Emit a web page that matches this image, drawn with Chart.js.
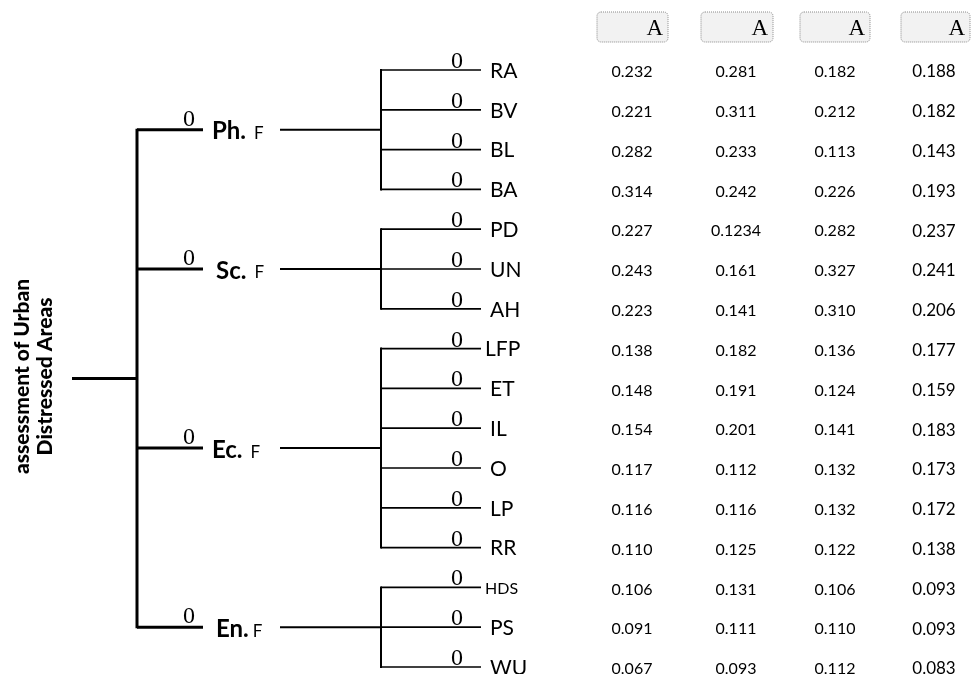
<!DOCTYPE html>
<html>
<head>
<meta charset="utf-8">
<script src="https://cdn.jsdelivr.net/npm/chart.js@4"></script>
<style>
  html, body { margin: 0; padding: 0; background: #fff; }
  #wrap { width: 971px; height: 674px; }
</style>
</head>
<body>
<div id="wrap"><canvas id="tree" width="971" height="674"></canvas></div>
<script>
"use strict";

// Daten
const rootTitle = ["assessment of Urban", "Distressed Areas"];
const groups = ["Ph.", "Sc.", "Ec.", "En."];
const groupSizes = [4, 3, 6, 3];
const groupWeights = [0, 0, 0, 0];
const leaves = ["RA", "BV", "BL", "BA", "PD", "UN", "AH", "LFP", "ET", "IL", "O", "LP", "RR", "HDS", "PS", "WU"];
const leafWeights = [0, 0, 0, 0, 0, 0, 0, 0, 0, 0, 0, 0, 0, 0, 0, 0];
const headers = ["A", "A", "A", "A"];
const col1 = [0.232, 0.221, 0.282, 0.314, 0.227, 0.243, 0.223, 0.138, 0.148, 0.154, 0.117, 0.116, 0.110, 0.106, 0.091, 0.067];
const col2 = [0.281, 0.311, 0.233, 0.242, 0.1234, 0.161, 0.141, 0.182, 0.191, 0.201, 0.112, 0.116, 0.125, 0.131, 0.111, 0.093];
const col3 = [0.182, 0.212, 0.113, 0.226, 0.282, 0.327, 0.310, 0.136, 0.124, 0.141, 0.132, 0.132, 0.122, 0.106, 0.110, 0.112];
const col4 = [0.188, 0.182, 0.143, 0.193, 0.237, 0.241, 0.206, 0.177, 0.159, 0.183, 0.173, 0.172, 0.138, 0.093, 0.093, 0.083];
const columns = [col1, col2, col3, col4];

// Layout
const rowTop = 70, rowStep = 39.8;
const rootX0 = 72, trunkX = 137, branchEnd = 203, subX = 381, leafEnd = 481;
const colX = [632, 736, 835, 934];
const sans = "Lato, 'Open Sans', sans-serif";
const serif = "'Liberation Serif', 'DejaVu Serif', serif";

function rowY(i) { return rowTop + i * rowStep; }

// Beräkna positioner
let groupY = [];
let groupRows = [];
let start = 0;
groupSizes.forEach((n) => {
    groupRows.push([start, start + n - 1]);
    groupY.push((rowY(start) + rowY(start + n - 1)) / 2);
    start += n;
});
const rootY = (groupY[0] + groupY[groupY.length - 1]) / 2;

// Linjer (segment)
let segments = [];
function seg(x1, y1, x2, y2, w) {
    segments.push({ data: [{ x: x1, y: y1 }, { x: x2, y: y2 }], w: w });
}
seg(rootX0, rootY, trunkX, rootY, 3);
seg(trunkX, groupY[0] - 1, trunkX, groupY[groupY.length - 1] + 1, 3);
groups.forEach((g, gi) => {
    const y = groupY[gi];
    seg(trunkX, y, branchEnd, y, 3);
    seg(280, y, subX, y, 2);
    const r = groupRows[gi];
    seg(subX, rowY(r[0]) - 1, subX, rowY(r[1]) + 1, 2);
    for (let i = r[0]; i <= r[1]; i++) {
        seg(subX, rowY(i), leafEnd, rowY(i), 1.7);
    }
});

const datasets = segments.map((s) => ({
    type: "scatter",
    data: s.data,
    showLine: true,
    borderColor: "#000",
    borderWidth: s.w,
    pointRadius: 0,
    borderCapStyle: "butt"
}));

function fmt(v) {
    let dec = String(v).split(".")[1] || "";
    return v.toFixed(Math.max(3, dec.length));
}

// Texter
const textPlugin = {
    id: "texts",
    afterDatasetsDraw(chart) {
        const ctx = chart.ctx;
        const sx = chart.scales.x, sy = chart.scales.y;
        const px = (v) => sx.getPixelForValue(v);
        const py = (v) => sy.getPixelForValue(v);
        ctx.save();
        ctx.fillStyle = "#000";

        // rubrik, roterad
        ctx.save();
        ctx.translate(px(34), py(rootY - 2));
        ctx.rotate(-Math.PI / 2);
        ctx.font = "900 21px " + sans;
        ctx.textAlign = "center";
        ctx.textBaseline = "middle";
        ctx.fillText(rootTitle[0], 0, -12);
        ctx.fillText(rootTitle[1], 0, 11);
        ctx.restore();

        // grupper
        groups.forEach((g, gi) => {
            const y = py(groupY[gi]);
            ctx.font = "24px " + serif;
            ctx.textAlign = "center";
            ctx.textBaseline = "alphabetic";
            ctx.fillText(String(groupWeights[gi]), px(189), y - 4);
            ctx.font = "bold 24px " + sans;
            ctx.textAlign = "left";
            ctx.textBaseline = "middle";
            const gx = (gi === 1 || gi === 3) ? 216 : 212;
            ctx.fillText(g, px(gx), y + 2);
            const w = ctx.measureText(g).width;
            ctx.font = "17px " + sans;
            ctx.fillText("F", px(gx) + w + (gi === 3 ? 4 : 8), y + 4);
        });

        // löv
        leaves.forEach((l, i) => {
            const y = py(rowY(i));
            ctx.font = "24px " + serif;
            ctx.textAlign = "center";
            ctx.textBaseline = "alphabetic";
            ctx.fillText(String(leafWeights[i]), px(457), y - 2);
            ctx.textAlign = "left";
            ctx.textBaseline = "middle";
            if (l === "HDS") {
                ctx.font = "16px " + sans;
                ctx.fillText(l, px(485), y + 1);
            } else {
                ctx.font = "21px " + sans;
                ctx.fillText(l, px(l.length > 2 ? 485 : 490), y + 1);
            }
        });

        // kolumnrubriker
        const boxes = [[597, 668], [701, 773], [800, 870], [901, 970]];
        headers.forEach((h, c) => {
            const x1 = px(boxes[c][0]), x2 = px(boxes[c][1]);
            const y1 = py(12), y2 = py(42);
            ctx.beginPath();
            ctx.roundRect(x1, y1, x2 - x1, y2 - y1, 4);
            ctx.fillStyle = "#f2f2f2";
            ctx.fill();
            ctx.setLineDash([1, 1]);
            ctx.strokeStyle = "#8a8a8a";
            ctx.lineWidth = 1;
            ctx.stroke();
            ctx.setLineDash([]);
            ctx.fillStyle = "#000";
            ctx.font = "23px " + serif;
            ctx.textAlign = "right";
            ctx.textBaseline = "middle";
            ctx.fillText(h, x2 - 5, (y1 + y2) / 2 + 2);
        });

        // värden
        columns.forEach((col, c) => {
            ctx.font = (c === 3 ? "17px " : "16px ") + sans;
            ctx.textAlign = "center";
            ctx.textBaseline = "middle";
            col.forEach((v, i) => {
                ctx.fillText(fmt(v), px(colX[c]), py(rowY(i)) + 2);
            });
        });
        ctx.restore();
    }
};

new Chart(document.getElementById("tree"), {
    type: "scatter",
    data: { datasets: datasets },
    options: {
        responsive: false,
        animation: false,
        events: [],
        layout: { padding: 0 },
        plugins: { legend: { display: false }, tooltip: { enabled: false } },
        scales: {
            x: { type: "linear", min: 0, max: 971, display: false },
            y: { type: "linear", min: 0, max: 674, reverse: true, display: false }
        }
    },
    plugins: [textPlugin]
});
</script>
</body>
</html>
